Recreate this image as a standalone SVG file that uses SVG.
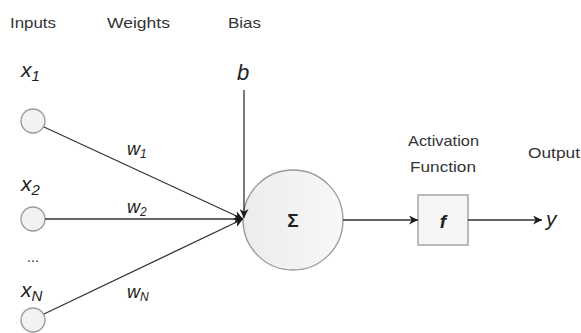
<svg xmlns="http://www.w3.org/2000/svg" width="581" height="333" viewBox="0 0 581 333">
<defs>
<marker id="arr" viewBox="0 0 10 10" refX="10" refY="5" markerWidth="9" markerHeight="9" markerUnits="userSpaceOnUse" orient="auto">
<path d="M0,0 L10,5 L0,10 L3,5 Z" fill="#1a1a1a"/>
</marker>
<linearGradient id="g" x1="0" y1="0" x2="1" y2="0">
<stop offset="0" stop-color="#ececec"/>
<stop offset="1" stop-color="#f8f8f8"/>
</linearGradient>
</defs>
<style>
.lbl{font-family:"Liberation Sans",Arial,sans-serif;font-size:14.5px;fill:#333}
.math{font-family:"Liberation Sans",Arial,sans-serif;font-style:italic;fill:#222}
.in{fill:#f2f2f2;stroke:#999;stroke-width:1.3}
.edge{stroke:#333;stroke-width:1.3;fill:none;marker-end:url(#arr)}
</style>
<text class="lbl" x="10" y="28" textLength="46" lengthAdjust="spacingAndGlyphs">Inputs</text>
<text class="lbl" x="107" y="28" textLength="63" lengthAdjust="spacingAndGlyphs">Weights</text>
<text class="lbl" x="228" y="28" textLength="33" lengthAdjust="spacingAndGlyphs">Bias</text>
<text class="lbl" x="408" y="146" textLength="71" lengthAdjust="spacingAndGlyphs">Activation</text>
<text class="lbl" x="410" y="172" textLength="66" lengthAdjust="spacingAndGlyphs">Function</text>
<text class="lbl" x="528" y="158" textLength="52" lengthAdjust="spacingAndGlyphs">Output</text>

<g id="x1"><circle class="in" cx="33" cy="121" r="12"/><text class="math" x="21" y="77" font-size="21">x<tspan font-size="15" dy="4">1</tspan></text></g>
<g id="x2"><circle class="in" cx="33" cy="219" r="12"/><text class="math" x="21" y="191" font-size="21">x<tspan font-size="15" dy="4">2</tspan></text></g>
<text class="lbl" x="33" y="262" text-anchor="middle" font-size="8" fill="#aaa">...</text>
<g id="xN"><circle class="in" cx="33" cy="320" r="12"/><text class="math" x="21" y="297" font-size="21">x<tspan font-size="15" dy="4">N</tspan></text></g>
<g id="bias"><text class="math" x="237" y="80" font-size="22">b</text></g>
<g id="sum"><circle cx="293" cy="220" r="50" fill="url(#g)" stroke="#999" stroke-width="1.3"/><text x="293" y="227" text-anchor="middle" font-family="Liberation Sans,Arial,sans-serif" font-size="19" font-weight="bold" fill="#222">Σ</text></g>
<g id="act"><rect x="418" y="195" width="50" height="50" fill="#f6f6f6" stroke="#999" stroke-width="1.3"/><text class="math" x="443" y="228" text-anchor="middle" font-size="19" font-weight="bold">f</text></g>
<g id="out"><text class="math" x="546" y="226" font-size="21">y</text></g>

<g id="connectors">
<line class="edge" x1="44" y1="127" x2="243" y2="219"/>
<line class="edge" x1="45" y1="219" x2="243" y2="219"/>
<line class="edge" x1="44" y1="314" x2="243" y2="219"/>
<line class="edge" x1="244" y1="90" x2="244" y2="218"/>
<line class="edge" x1="343" y1="220" x2="418" y2="220"/>
<line class="edge" x1="468" y1="220" x2="542" y2="220"/>
<text class="math" x="127" y="155" font-size="18">w<tspan font-size="12" dy="3">1</tspan></text>
<text class="math" x="127" y="213" font-size="18">w<tspan font-size="12" dy="3">2</tspan></text>
<text class="math" x="127" y="298" font-size="18">w<tspan font-size="12" dy="3">N</tspan></text>
</g>
</svg>
